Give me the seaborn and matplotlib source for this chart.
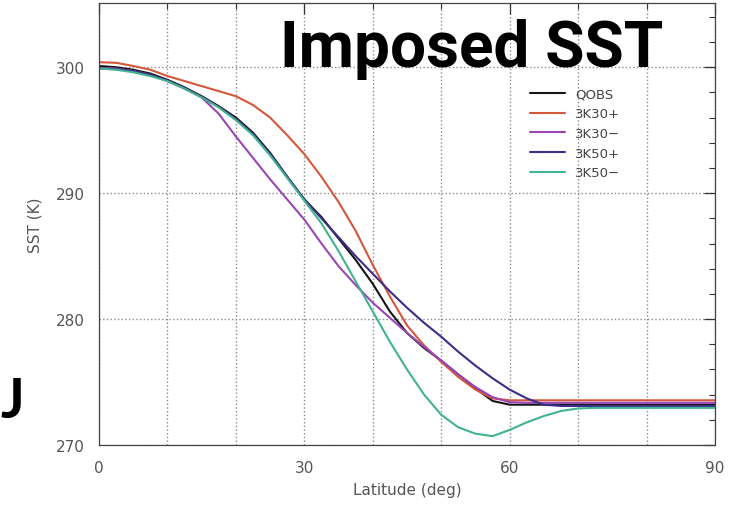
import pandas as pd
import matplotlib
matplotlib.use("Agg")
import matplotlib.pyplot as plt
import seaborn as sns
from matplotlib.ticker import MultipleLocator

# === Data (latitude in deg, SST in K)
latitude = [0, 2.5, 5, 7.5, 10, 12.5, 15, 17.5, 20, 22.5, 25, 27.5, 30, 32.5, 35,
            37.5, 40, 42.5, 45, 47.5, 50, 52.5, 55, 57.5, 60, 62.5, 65, 67.5, 70,
            72.5, 75, 77.5, 80, 82.5, 85, 87.5, 90]

qobs = [300.1, 300.0, 299.8, 299.5, 299.0, 298.4, 297.7, 296.9, 296.0, 294.8, 293.2,
        291.3, 289.5, 288.1, 286.4, 284.7, 282.8, 280.6, 278.9, 277.7, 276.7, 275.6,
        274.5, 273.5, 273.2, 273.2, 273.2, 273.2, 273.2, 273.2, 273.2, 273.2, 273.2,
        273.2, 273.2, 273.2, 273.2]
k30_plus = [300.4, 300.35, 300.1, 299.8, 299.3, 298.9, 298.5, 298.1, 297.7, 297.0,
            296.0, 294.6, 293.1, 291.3, 289.3, 287.0, 284.3, 281.8, 279.5, 277.9,
            276.6, 275.4, 274.4, 273.7, 273.55, 273.55, 273.55, 273.55, 273.55,
            273.55, 273.55, 273.55, 273.55, 273.55, 273.55, 273.55, 273.55]
k30_minus = [299.95, 299.9, 299.7, 299.4, 298.9, 298.3, 297.6, 296.3, 294.5, 292.8,
             291.1, 289.5, 287.9, 286.0, 284.2, 282.7, 281.3, 280.1, 278.9, 277.8,
             276.7, 275.6, 274.6, 273.8, 273.4, 273.35, 273.35, 273.35, 273.35,
             273.35, 273.35, 273.35, 273.35, 273.35, 273.35, 273.35, 273.35]
k50_plus = [299.9, 299.85, 299.7, 299.4, 298.95, 298.35, 297.65, 296.85, 295.9, 294.7,
            293.1, 291.3, 289.5, 288.0, 286.5, 285.0, 283.6, 282.2, 280.9, 279.7,
            278.6, 277.4, 276.3, 275.3, 274.4, 273.7, 273.2, 273.1, 273.1, 273.1,
            273.1, 273.1, 273.1, 273.1, 273.1, 273.1, 273.1]
k50_minus = [299.9, 299.8, 299.6, 299.3, 298.9, 298.3, 297.6, 296.8, 295.8, 294.6,
             293.0, 291.2, 289.4, 287.6, 285.4, 283.0, 280.6, 278.2, 276.0, 274.0,
             272.4, 271.4, 270.9, 270.7, 271.2, 271.8, 272.3, 272.7, 272.9, 272.95,
             272.95, 272.95, 272.95, 272.95, 272.95, 272.95, 272.95]

runs = ["QOBS", "3K30+", "3K30\u2212", "3K50+", "3K50\u2212"]
series = [qobs, k30_plus, k30_minus, k50_plus, k50_minus]
colors = ["#151515", "#d5573b", "#9a46b6", "#3a2e88", "#41b38e"]

frames = []
for run, values in zip(runs, series):
    frames.append(pd.DataFrame({"Latitude": latitude, "SST": values, "Run": run}))
df = pd.concat(frames, ignore_index=True)

# === Plot
sns.set_style("white")
plt.rcParams["font.family"] = ["DejaVu Sans"]

fig = plt.figure(figsize=(7.4, 5.1), dpi=100)
ax = fig.add_axes([99 / 740, 1 - 446 / 510, 616 / 740, 442 / 510])

sns.lineplot(data=df, x="Latitude", y="SST", hue="Run", hue_order=runs,
             palette=dict(zip(runs, colors)), linewidth=1.5, ax=ax, sort=False,
             estimator=None)

ax.set_xlim(0, 90)
ax.set_ylim(270, 305.1)
ax.xaxis.set_major_locator(MultipleLocator(30))
ax.xaxis.set_minor_locator(MultipleLocator(10))
ax.yaxis.set_major_locator(MultipleLocator(10))
ax.yaxis.set_minor_locator(MultipleLocator(2))

ax.tick_params(which="both", direction="in", top=True, right=True,
               color="#333333", labelcolor="#555555", labelsize=11)
ax.tick_params(which="major", length=8, width=0.9)
ax.tick_params(which="minor", length=4, width=0.8)
ax.tick_params(axis="x", which="major", pad=11)
ax.tick_params(axis="y", which="major", pad=10)

ax.grid(True, which="both", axis="x", linestyle=":", color="#8a8a8a", linewidth=1)
ax.grid(True, which="major", axis="y", linestyle=":", color="#8a8a8a", linewidth=1)

for side in ax.spines.values():
    side.set_color("#444444")
    side.set_linewidth(0.9)

ax.set_xlabel("Latitude (deg)", color="#555555", fontsize=11, labelpad=5)
ax.set_ylabel("SST (K)", color="#555555", fontsize=11, labelpad=10)

leg = ax.legend(loc="upper left", bbox_to_anchor=(0.70, 0.808), frameon=False,
                fontsize=9.5, handlelength=2.6, handletextpad=0.8,
                labelspacing=0.5, borderpad=0, borderaxespad=0)
for t in leg.get_texts():
    t.set_color("#444444")

# big slide text overlapping the chart
fig.text(280 / 740, 1 - 67 / 510, "Imposed SST", fontsize=46, fontweight="bold",
         family=["Roboto", "DejaVu Sans"], color="black", va="baseline", ha="left")
fig.text(0, 1 - 418 / 510, "J", fontsize=40, fontweight="bold",
         family=["Lato", "DejaVu Sans"], color="black", va="baseline", ha="left")

fig.savefig("out.png", dpi=100)
